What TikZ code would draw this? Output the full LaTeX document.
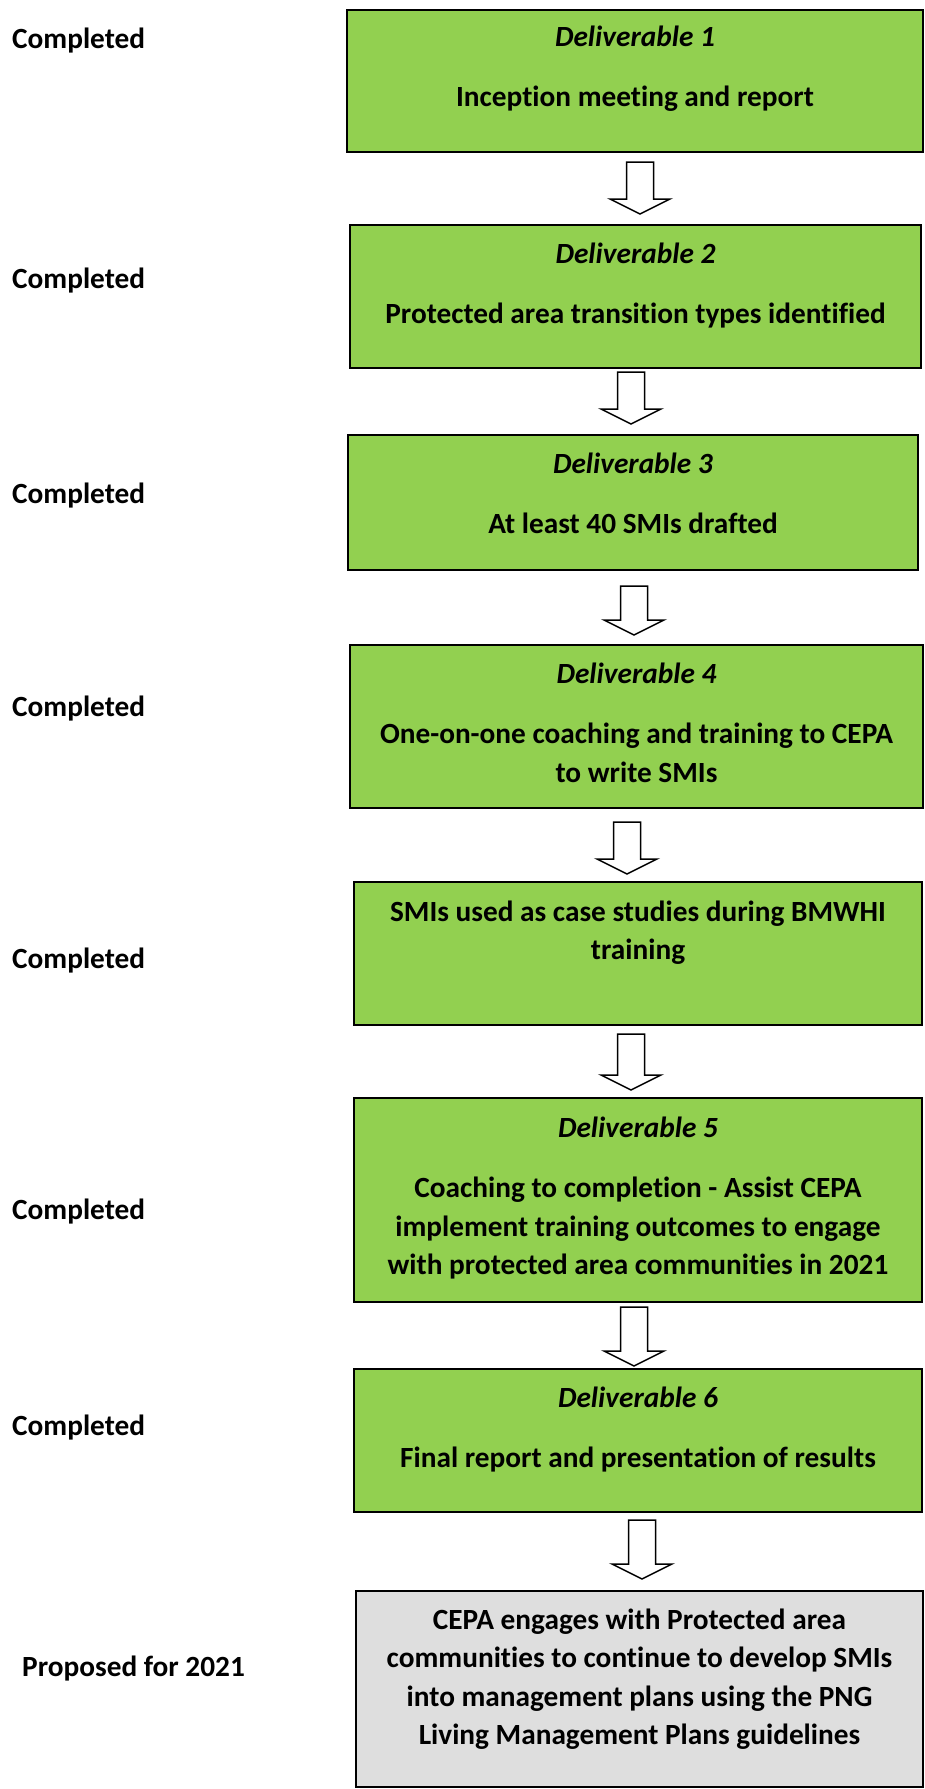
\documentclass[tikz,border=0pt]{standalone}
\usepackage{fontspec}
\setmainfont{Carlito}[Ligatures={NoCommon,NoContextual}]
\usetikzlibrary{calc}
\definecolor{boxgreen}{HTML}{92D050}
\definecolor{boxgrey}{HTML}{DEDEDE}
\tikzset{
  stagebox/.style={draw=black, line width=2pt, fill=boxgreen, rectangle, inner sep=0pt, anchor=north west},
  proposedbox/.style={stagebox, fill=boxgrey},
  boxtext/.style={anchor=north, inner sep=0pt, align=center, font=\fontsize{29.3}{38.5}\selectfont\bfseries},
  statuslabel/.style={anchor=base west, inner sep=0pt, font=\fontsize{29.3}{35}\selectfont\bfseries},
  blockarr/.style={draw=black, line width=1.5pt, fill=white, line join=miter},
}
% name, style, x1, y1, x2, y2
\newcommand\mkstage[6]{%
  \node[#2, minimum width=#5-#3, minimum height=#6-#4] (#1) at (#3,-#4) {};}
% from, to, x centre, top gap, bottom gap
\newcommand\mkflow[5]{%
  \draw[blockarr] let \p1=(#1.south), \p2=(#2.north) in
    (#3-13.5,\y1-#4) -- (#3+13.5,\y1-#4) -- (#3+13.5,\y2+#5+15) -- (#3+30,\y2+#5+15)
    -- (#3,\y2+#5) -- (#3-30,\y2+#5+15) -- (#3-13.5,\y2+#5+15) -- cycle;}
\newcommand\firstline{\rule{0pt}{24pt}}
\begin{document}
\begin{tikzpicture}[x=1pt,y=1pt]
\useasboundingbox (0,0) rectangle (924,-1789);

\mkstage{b1}{stagebox}{346}{9}{922}{151}
\mkstage{b2}{stagebox}{349}{224}{920}{367}
\mkstage{b3}{stagebox}{347}{434}{917}{569}
\mkstage{b4}{stagebox}{349}{644}{922}{807}
\mkstage{b5}{stagebox}{353}{881}{921}{1024}
\mkstage{b6}{stagebox}{353}{1097}{921}{1301}
\mkstage{b7}{stagebox}{353}{1368}{921}{1511}
\mkstage{b8}{proposedbox}{355}{1590}{922}{1786}

\node[boxtext] (t1) at ($(b1.north)+(0,-13)$) {\firstline\textit{Deliverable 1}\\[22pt]Inception meeting and report};
\node[boxtext] (t2) at ($(b2.north)+(0,-15)$) {\firstline\textit{Deliverable 2}\\[22pt]Protected area transition types identified};
\node[boxtext] (t3) at ($(b3.north)+(0,-15)$) {\firstline\textit{Deliverable 3}\\[22pt]At least 40 SMIs drafted};
\node[boxtext] (t4) at ($(b4.north)+(0,-15)$) {\firstline\textit{Deliverable 4}\\[22pt]One-on-one coaching and training to CEPA\\to write SMIs};
\node[boxtext] (t5) at ($(b5.north)+(0,-16)$) {\firstline SMIs used as case studies during BMWHI\\training};
\node[boxtext] (t6) at ($(b6.north)+(0,-16)$) {\firstline\textit{Deliverable 5}\\[22pt]Coaching to completion - Assist CEPA\\implement training outcomes to engage\\with protected area communities in 2021};
\node[boxtext] (t7) at ($(b7.north)+(0,-15)$) {\firstline\textit{Deliverable 6}\\[22pt]Final report and presentation of results};
\node[boxtext] (t8) at ($(b8.north)+(0,-15)$) {\firstline CEPA engages with Protected area\\communities to continue to develop SMIs\\into management plans using the PNG\\Living Management Plans guidelines};

\mkflow{b1}{b2}{640}{9}{10}
\mkflow{b2}{b3}{631}{3}{10}
\mkflow{b3}{b4}{634}{15}{9}
\mkflow{b4}{b5}{627}{13}{7}
\mkflow{b5}{b6}{631}{8}{7}
\mkflow{b6}{b7}{634}{4}{2}
\mkflow{b7}{b8}{642}{7}{11}

\node[statuslabel] (s1) at (12,-48.5) {Completed};
\node[statuslabel] (s2) at (12,-288.5) {Completed};
\node[statuslabel] (s3) at (12,-503.5) {Completed};
\node[statuslabel] (s4) at (12,-716.5) {Completed};
\node[statuslabel] (s5) at (12,-968.5) {Completed};
\node[statuslabel] (s6) at (12,-1219.5) {Completed};
\node[statuslabel] (s7) at (12,-1435.5) {Completed};
\node[statuslabel] (s8) at (22,-1676.5) {Proposed for 2021};
\end{tikzpicture}
\end{document}
